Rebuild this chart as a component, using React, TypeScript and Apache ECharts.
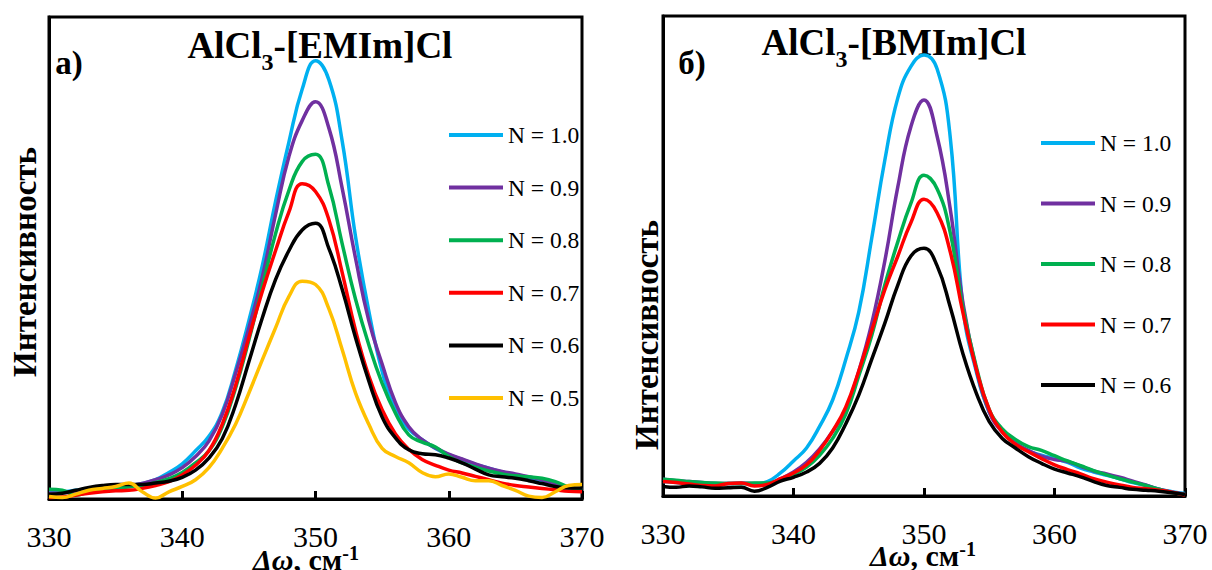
import React, { useEffect, useRef } from "react";
import * as echarts from "echarts";

const FONT = "'Liberation Serif', 'Times New Roman', serif";

// Raman shift, cm^-1
const shift = [
  330, 331, 332, 333, 334, 335, 336, 337, 338, 339,
  340, 341, 342, 343, 344, 345, 346, 347, 348, 349,
  350, 351, 352, 353, 354, 355, 356, 357, 358, 359,
  360, 361, 362, 363, 364, 365, 366, 367, 368, 369,
  370,
];

const seriesNames = ["N = 1.0", "N = 0.9", "N = 0.8", "N = 0.7", "N = 0.6", "N = 0.5"];
const seriesColors = ["#00B0F0", "#7030A0", "#00B050", "#FF0000", "#000000", "#FFC000"];

// а) AlCl3-[EMIm]Cl
const leftN10 = [1.5, 1.5, 1.8, 2.2, 2.5, 2.7, 2.8, 3.2, 4, 5.5, 7.3, 10, 13, 18, 26.7, 37, 48.3, 61.7, 74, 85, 90.9, 87, 74.3, 54.5, 39, 26.5, 18.5, 14.5, 12.3, 10.5, 9.2, 8.2, 7.2, 6.4, 5.6, 5, 4.4, 3.7, 3, 2.4, 2];
const leftN09 = [1.2, 1.3, 1.6, 2, 2.3, 2.5, 2.7, 3.2, 4, 5, 6.5, 8.8, 12, 17.5, 26, 35.5, 46, 59, 71, 78.5, 82.4, 77, 64.5, 50, 37, 28, 20, 15, 12.3, 10.6, 9.3, 8.3, 7.3, 6.4, 5.7, 5.2, 4.6, 4, 3.2, 2.5, 1.8];
const leftN08 = [2, 1.8, 0.8, 1.5, 2, 2.3, 2.5, 2.8, 3.4, 4.2, 5.5, 7.5, 10, 15, 23, 33, 44, 55, 64, 70, 71.5, 65, 53, 41.5, 32, 24, 17.8, 13.3, 11.8, 10.8, 8.8, 7.5, 6.6, 5.8, 5.2, 4.8, 4.6, 4.3, 3.6, 2.5, 1.8];
const leftN07 = [0.3, 0.4, 0.8, 1.2, 1.5, 1.7, 1.8, 2.2, 2.8, 3.6, 5, 7, 10, 15.5, 23.5, 33.5, 43, 51.5, 59.5, 65.4, 63.8, 58, 47, 35, 25.5, 18.5, 13.5, 10.3, 8.2, 7, 6, 5.4, 4.7, 4, 3.3, 2.8, 2.5, 2.2, 1.9, 1.6, 1.5];
const leftN06 = [1, 1.2, 1.8, 2.4, 2.8, 3, 3, 3, 3.3, 3.7, 4.5, 6, 8.5, 12.5, 19.5, 28.5, 37.5, 45.5, 51.5, 55.8, 57.2, 52, 43.5, 33.5, 24.5, 17, 12.7, 10.2, 9.4, 9.2, 8.5, 7.5, 6.2, 5, 4.6, 4.3, 3.8, 3.2, 2.6, 2.3, 2.3];
const leftN05 = [0.5, 0.3, 1, 1.8, 2.2, 2.6, 3.3, 1.5, 0.2, 1.5, 2.6, 4, 6.5, 10.5, 15.5, 22, 28.8, 35.5, 42, 45.2, 44.5, 39.5, 31, 22, 15.5, 10.5, 8.8, 7.5, 5.5, 4.6, 5.2, 4.5, 3.8, 3.8, 2.8, 1.8, 0.6, 0.3, 1.5, 2.8, 3];

// б) AlCl3-[BMIm]Cl
const rightN10 = [3, 2.8, 2.6, 2.5, 2.5, 2.6, 2.6, 2.5, 3, 4.8, 7.3, 10, 14.5, 20, 28.4, 38.3, 53.8, 70, 83, 89.5, 91.9, 89, 75, 39, 26, 17.5, 13.5, 11, 9.4, 8.5, 7.8, 7, 5.8, 5, 4.3, 3.6, 2.8, 2.2, 1.4, 0.9, 0.5];
const rightN09 = [3.5, 3.2, 3, 2.8, 2.6, 2.6, 2.7, 2.6, 2.6, 3.6, 5, 7, 9.8, 13.5, 18, 26, 36, 49, 64.5, 77, 82.5, 75, 60, 40, 26.5, 17.5, 13.3, 11, 9.5, 8.3, 7.6, 7.2, 6.2, 5.2, 4.6, 3.9, 3.1, 2.3, 1.4, 0.8, 0.4];
const rightN08 = [3.5, 3.3, 3, 2.8, 2.7, 2.6, 2.6, 2.7, 2.7, 3.4, 4.5, 6, 8.5, 12, 17, 25, 33.5, 44, 53, 61, 66.8, 64, 55, 39, 27, 18, 14, 11.8, 10.3, 9.5, 8.4, 7.3, 6.3, 5.3, 4.4, 3.6, 2.9, 2.2, 1.4, 0.7, 0.3];
const rightN07 = [3, 2.8, 2.5, 2.2, 2.1, 2.6, 2.7, 2.1, 2.4, 3.6, 4.8, 6.5, 9.5, 13.5, 18.5, 26, 34.5, 43, 50, 57, 61.8, 59, 51, 38, 26.5, 18, 13.3, 10.8, 9.2, 7.8, 6.5, 5.5, 4.6, 3.6, 2.9, 2.3, 1.8, 1.5, 1.2, 0.8, 0.2];
const rightN06 = [2, 1.8, 2.1, 1.9, 1.6, 1.7, 1.8, 1.0, 1.8, 3.1, 3.9, 5, 6.8, 10, 15, 21, 28.5, 36, 44, 50, 51.6, 48, 39.5, 29.5, 21.5, 15.5, 12, 10, 8.2, 6.8, 5.6, 4.8, 4, 3, 2.2, 1.8, 1.4, 1.2, 1, 0.7, 0.3];

const leftSets = [leftN10, leftN09, leftN08, leftN07, leftN06, leftN05];
const rightSets = [rightN10, rightN09, rightN08, rightN07, rightN06];

function pairs(vals: number[]) {
  return shift.map((x, i) => [x, vals[i]]);
}

function makeSeries(vals: number[], idx: number, axis: number) {
  return {
    type: "line",
    name: seriesNames[idx],
    xAxisIndex: axis,
    yAxisIndex: axis,
    data: pairs(vals),
    smooth: 0.45,
    symbol: "none",
    showSymbol: false,
    lineStyle: { color: seriesColors[idx], width: 3.5 },
    itemStyle: { color: seriesColors[idx] },
    z: 2 + idx,
  };
}

function textEl(x: number, y: number, text: string, rich: any, rotation = 0) {
  return {
    type: "text",
    x,
    y,
    rotation,
    style: {
      text,
      rich,
      align: "center",
      verticalAlign: "middle",
      textAlign: "center",
      textVerticalAlign: "middle",
      fill: "#000",
      fontFamily: FONT,
    },
  };
}

const titleRich = {
  b: { fontSize: 37, fontWeight: "bold", fontFamily: FONT, height: 37, lineHeight: 37, verticalAlign: "bottom", fill: "#000" },
  s: { fontSize: 24, fontWeight: "bold", fontFamily: FONT, height: 4, lineHeight: 4, verticalAlign: "bottom", fill: "#000" },
};
const axisNameRich = {
  i: { fontSize: 30, fontWeight: "bold", fontStyle: "italic", fontFamily: FONT, height: 30, lineHeight: 30, verticalAlign: "bottom", fill: "#000" },
  b: { fontSize: 30, fontWeight: "bold", fontFamily: FONT, height: 30, lineHeight: 30, verticalAlign: "bottom", fill: "#000" },
  p: { fontSize: 20, fontWeight: "bold", fontFamily: FONT, height: 18, lineHeight: 18, verticalAlign: "top", fill: "#000" },
};
const plainBold = (size: number) => ({
  b: { fontSize: size, fontWeight: "bold", fontFamily: FONT, fill: "#000" },
});

export default function App() {
  const ref = useRef<HTMLDivElement>(null);
  useEffect(() => {
    if (!ref.current) return;
    const chart = echarts.init(ref.current, undefined, { renderer: "svg" });
    const xAxisBase = (gi: number) => ({
      type: "value",
      gridIndex: gi,
      min: 330,
      max: 370,
      interval: 10,
      axisLine: { show: true, onZero: false, lineStyle: { color: "#000", width: 3 } },
      axisTick: { show: true, inside: true, length: 8, lineStyle: { color: "#000", width: 3 } },
      axisLabel: { fontFamily: FONT, fontSize: 30, color: "#000", margin: 22 },
      splitLine: { show: false },
    });
    const yAxisBase = (gi: number) => ({
      type: "value",
      gridIndex: gi,
      min: 0,
      max: 100,
      axisLine: { show: true, lineStyle: { color: "#000", width: 3 } },
      axisTick: { show: false },
      axisLabel: { show: false },
      splitLine: { show: false },
    });
    const legendBase = {
      orient: "vertical",
      icon: "rect",
      itemWidth: 54,
      itemHeight: 4,
      padding: 0,
      selectedMode: false,
      textStyle: { fontFamily: FONT, fontSize: 23.5, color: "#000", lineHeight: 24 },
    };
    const option: any = {
      animation: false,
      backgroundColor: "#fff",
      grid: [
        { left: 49, top: 17, width: 533, height: 482, show: true, borderColor: "#000", borderWidth: 3, backgroundColor: "transparent" },
        { left: 663, top: 16, width: 522, height: 480, show: true, borderColor: "#000", borderWidth: 3, backgroundColor: "transparent" },
      ],
      xAxis: [xAxisBase(0), xAxisBase(1)],
      yAxis: [yAxisBase(0), yAxisBase(1)],
      legend: [
        { ...legendBase, left: 449, top: 123, itemGap: 28.6, data: seriesNames.slice(0, 6) },
        { ...legendBase, left: 1041, top: 131, itemGap: 36.5, data: seriesNames.slice(0, 5) },
      ],
      series: [
        ...leftSets.map((v, i) => makeSeries(v, i, 0)),
        ...rightSets.map((v, i) => makeSeries(v, i, 1)),
      ],
      graphic: [
        textEl(320, 45, "{b|AlCl}{s|3}{b|-[EMIm]Cl}", titleRich),
        textEl(894, 42, "{b|AlCl}{s|3}{b|-[BMIm]Cl}", titleRich),
        textEl(69, 63, "{b|а)}", plainBold(33)),
        textEl(692, 63, "{b|б)}", plainBold(33)),
        textEl(25, 262, "{b|Интенсивность}", plainBold(33), Math.PI / 2),
        textEl(647, 335, "{b|Интенсивность}", plainBold(33), Math.PI / 2),
        textEl(306, 559, "{i|Δω}{b|, см}{p|-1}", axisNameRich),
        textEl(923, 555, "{i|Δω}{b|, см}{p|-1}", axisNameRich),
      ],
    };
    chart.setOption(option);
    return () => chart.dispose();
  }, []);
  return (
    <div
      ref={ref}
      style={{ position: "absolute", left: 0, top: 0, width: 1212, height: 570, background: "#fff" }}
    />
  );
}
